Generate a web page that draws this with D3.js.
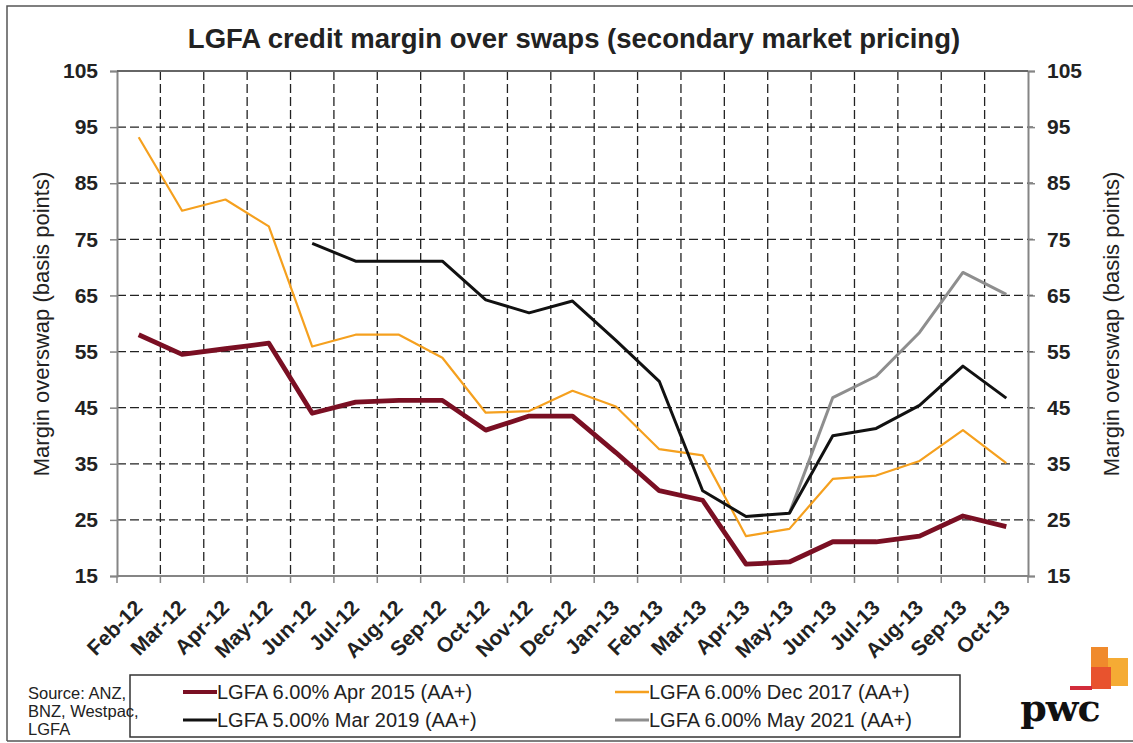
<!DOCTYPE html>
<html>
<head>
<meta charset="utf-8">
<script src="https://cdn.jsdelivr.net/npm/d3@7"></script>
<style>
  body { margin: 0; background: #fff; }
  svg { display: block; font-family: Arial, "Liberation Sans", sans-serif; }
</style>
</head>
<body>
<div id="chart"></div>
<script>
// months on the category axis
const months = ['Feb-12', 'Mar-12', 'Apr-12', 'May-12', 'Jun-12', 'Jul-12', 'Aug-12', 'Sep-12', 'Oct-12', 'Nov-12', 'Dec-12',
  'Jan-13', 'Feb-13', 'Mar-13', 'Apr-13', 'May-13', 'Jun-13', 'Jul-13', 'Aug-13', 'Sep-13', 'Oct-13'];

// margin over swap, basis points
const apr2015 = [58, 54.5, 55.5, 56.5, 44, 46, 46.3, 46.3, 41, 43.5, 43.5, 37, 30.2, 28.5, 17.1, 17.5, 21.1, 21.1, 22.1, 25.7, 23.8];
const dec2017 = [93.2, 80.1, 82.1, 77.3, 55.9, 58, 58, 53.9, 44.1, 44.4, 48, 45.2, 37.6, 36.5, 22.1, 23.4, 32.3, 32.9, 35.5, 41, 35.1];
const mar2019 = [null, null, null, null, 74.3, 71.1, 71.1, 71.1, 64.2, 61.9, 64, 57, 49.7, 30.2, 25.6, 26.2, 40, 41.3, 45.4, 52.4, 46.7];
const may2021 = [null, null, null, null, null, null, null, null, null, null, null, null, null, null, null, 26.2, 46.8, 50.6, 58.4, 69.1, 65.2];

const yTicks = [15, 25, 35, 45, 55, 65, 75, 85, 95, 105];

const seriesNames = ['LGFA 6.00% Apr 2015 (AA+)', 'LGFA 5.00% Mar 2019 (AA+)', 'LGFA 6.00% Dec 2017 (AA+)', 'LGFA 6.00% May 2021 (AA+)'];
const sourceLines = ['Source: ANZ,', 'BNZ, Westpac,', 'LGFA'];

const W = 1133, H = 743;
const plot = { left: 117, right: 1028, top: 71, bottom: 576 };

const svg = d3.select('#chart').append('svg').attr('width', W).attr('height', H);

// frame round the whole picture
svg.append('path')
  .attr('d', `M7,741 V6 H1133 M7,741 H1133`)
  .attr('fill', 'none').attr('stroke', '#555').attr('stroke-width', 1.5);

const x = d3.scaleBand().domain(months).range([plot.left, plot.right]);
const y = d3.scaleLinear().domain([15, 105]).range([plot.bottom, plot.top]);

// horizontal dashed grid
svg.append('g')
  .selectAll('line')
  .data(yTicks.filter((t) => t > 15 && t < 105))
  .enter().append('line')
  .attr('x1', plot.left).attr('x2', plot.right + 5)
  .attr('y1', (d) => y(d)).attr('y2', (d) => y(d))
  .attr('stroke', '#222').attr('stroke-width', 1.3).attr('stroke-dasharray', '9,4');

// vertical dashed grid at the band edges
svg.append('g')
  .selectAll('line')
  .data(months.slice(1))
  .enter().append('line')
  .attr('x1', (d) => x(d)).attr('x2', (d) => x(d))
  .attr('y1', plot.top).attr('y2', plot.bottom)
  .attr('stroke', '#222').attr('stroke-width', 1.3).attr('stroke-dasharray', '9,4');

// axes
const axisColor = '#858585';
const leftAxis = svg.append('g')
  .attr('transform', `translate(${plot.left},0)`)
  .call(d3.axisLeft(y).tickValues(yTicks).tickSize(7).tickPadding(12));
const rightAxis = svg.append('g')
  .attr('transform', `translate(${plot.right},0)`)
  .call(d3.axisRight(y).tickValues(yTicks).tickSize(7).tickPadding(12));
[leftAxis, rightAxis].forEach((a) => {
  a.select('.domain').attr('stroke', axisColor).attr('stroke-width', 2);
  a.selectAll('.tick line').attr('stroke', axisColor).attr('stroke-width', 1.5);
  a.selectAll('.tick text')
    .attr('font-family', 'Arial, "Liberation Sans", sans-serif')
    .attr('font-size', 21).attr('font-weight', 'bold').attr('fill', '#222');
});

// top border
svg.append('line')
  .attr('x1', plot.left).attr('x2', plot.right)
  .attr('y1', plot.top).attr('y2', plot.top)
  .attr('stroke', '#666').attr('stroke-width', 2);

// bottom axis: line, ticks at band edges, labels at band centres
svg.append('line')
  .attr('x1', plot.left).attr('x2', plot.right)
  .attr('y1', plot.bottom).attr('y2', plot.bottom)
  .attr('stroke', axisColor).attr('stroke-width', 2);
svg.append('g')
  .selectAll('line')
  .data(months.map((m) => x(m)).concat([plot.right]))
  .enter().append('line')
  .attr('x1', (d) => d).attr('x2', (d) => d)
  .attr('y1', plot.bottom).attr('y2', plot.bottom + 7)
  .attr('stroke', axisColor).attr('stroke-width', 1.5);
svg.append('g')
  .selectAll('text')
  .data(months)
  .enter().append('text')
  .attr('transform', (d) => `translate(${x(d) + x.bandwidth() / 2 + 5},${plot.bottom + 33}) rotate(-45)`)
  .attr('text-anchor', 'end')
  .attr('font-size', 21).attr('font-weight', 'bold').attr('fill', '#222')
  .text((d) => d);

// lines
const line = d3.line()
  .defined((d) => d !== null)
  .x((d, i) => x(months[i]) + x.bandwidth() / 2)
  .y((d) => y(d));

const series = [
  { values: dec2017, color: '#f5a01e', width: 2.2 },
  { values: apr2015, color: '#7a0f23', width: 4.8 },
  { values: may2021, color: '#8e8e8e', width: 3 },
  { values: mar2019, color: '#111', width: 3 },
];
svg.append('g')
  .selectAll('path')
  .data(series)
  .enter().append('path')
  .attr('d', (s) => line(s.values))
  .attr('fill', 'none')
  .attr('stroke', (s) => s.color)
  .attr('stroke-width', (s) => s.width)
  .attr('stroke-linejoin', 'round');

// title
svg.append('text')
  .attr('x', 574).attr('y', 48)
  .attr('text-anchor', 'middle')
  .attr('font-size', 27.5).attr('font-weight', 'bold').attr('fill', '#222')
  .text('LGFA credit margin over swaps (secondary market pricing)');

// y titles
[41, 1111].forEach((tx) => {
  svg.append('text')
    .attr('transform', `translate(${tx},324) rotate(-90)`)
    .attr('text-anchor', 'middle')
    .attr('dy', '0.35em')
    .attr('font-size', 22).attr('fill', '#222')
    .text('Margin overswap (basis points)');
});

// legend
const legend = svg.append('g');
legend.append('rect')
  .attr('x', 130).attr('y', 675).attr('width', 830).attr('height', 62)
  .attr('fill', '#fff').attr('stroke', '#333').attr('stroke-width', 1.5);
const legendItems = [
  { name: seriesNames[0], color: '#7a0f23', width: 4, x: 183, y: 692 },
  { name: seriesNames[1], color: '#111', width: 3, x: 183, y: 720 },
  { name: seriesNames[2], color: '#f5a01e', width: 2.5, x: 615, y: 692 },
  { name: seriesNames[3], color: '#8e8e8e', width: 3, x: 615, y: 720 },
];
legendItems.forEach((it) => {
  legend.append('line')
    .attr('x1', it.x).attr('x2', it.x + 34)
    .attr('y1', it.y).attr('y2', it.y)
    .attr('stroke', it.color).attr('stroke-width', it.width);
  legend.append('text')
    .attr('x', it.x + 34).attr('y', it.y)
    .attr('dy', '0.36em')
    .attr('font-size', 20).attr('fill', '#222')
    .text(it.name);
});

// source note
svg.append('g')
  .selectAll('text')
  .data(sourceLines)
  .enter().append('text')
  .attr('x', 28).attr('y', (d, i) => 699 + i * 18)
  .attr('font-size', 16.5).attr('fill', '#222')
  .text((d) => d);

// pwc mark
const logo = svg.append('g');
logo.append('rect').attr('x', 1091).attr('y', 647).attr('width', 17).attr('height', 20).attr('fill', '#f08a2c');
logo.append('rect').attr('x', 1108).attr('y', 658).attr('width', 20).attr('height', 28).attr('fill', '#f5ab34');
logo.append('rect').attr('x', 1091).attr('y', 667).attr('width', 20).attr('height', 22).attr('fill', '#e8532e');
logo.append('rect').attr('x', 1070).attr('y', 686).attr('width', 22).attr('height', 4).attr('fill', '#d22c3a');
logo.append('text')
  .attr('x', 1060).attr('y', 721)
  .attr('text-anchor', 'middle')
  .attr('font-family', '"DejaVu Serif", serif')
  .attr('font-size', 38).attr('font-weight', 'bold').attr('letter-spacing', -1).attr('fill', '#111')
  .text('pwc');
</script>
</body>
</html>
